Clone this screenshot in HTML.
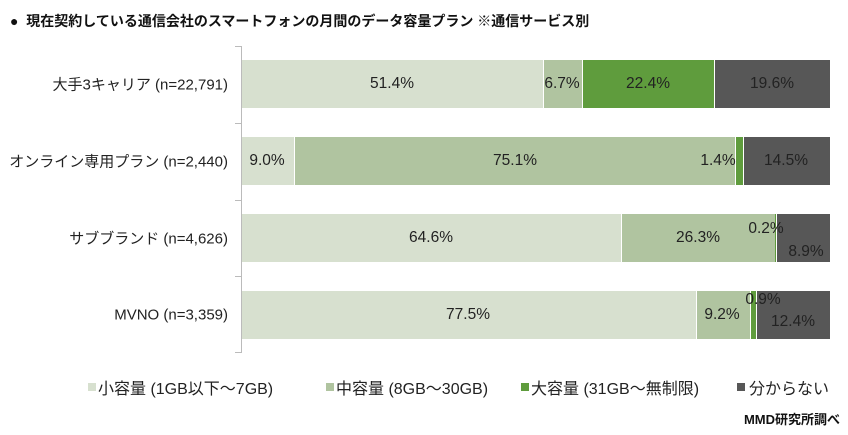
<!DOCTYPE html><html><head><meta charset="utf-8"><style>
body{margin:0;width:848px;height:435px;background:#fff;position:relative;font-family:"Liberation Sans","Noto Sans CJK JP",sans-serif;overflow:hidden}
div{position:absolute}
.s{height:48px}
.l{font-size:15.5px;color:#222;transform:translate(-50%,-50%);white-space:nowrap}
.c{font-size:15px;color:#222;right:620px;white-space:nowrap;transform:translateY(-50%)}
.a{background:#d7e0cf}.b{background:#b0c4a0}.g{background:#5f9c3d}.k{background:#575757}
.lg{font-size:16px;color:#222;top:375px;white-space:nowrap}
.sq{width:8px;height:8px;top:383px}
</style></head><body>
<div style="left:10px;top:11px;font-size:14px;font-weight:bold;color:#111">●&nbsp; 現在契約している通信会社のスマートフォンの月間のデータ容量プラン ※通信サービス別</div>
<div style="left:241px;top:46px;width:1px;height:307px;background:#bbb"></div>
<div style="left:235px;top:46px;width:6px;height:1px;background:#bbb"></div>
<div style="left:235px;top:123px;width:6px;height:1px;background:#bbb"></div>
<div style="left:235px;top:200px;width:6px;height:1px;background:#bbb"></div>
<div style="left:235px;top:276px;width:6px;height:1px;background:#bbb"></div>
<div style="left:235px;top:352px;width:6px;height:1px;background:#bbb"></div>

<div class="c" style="top:84px">大手3キャリア (n=22,791)</div>
<div class="c" style="top:161px">オンライン専用プラン (n=2,440)</div>
<div class="c" style="top:238px">サブブランド (n=4,626)</div>
<div class="c" style="top:315px">MVNO (n=3,359)</div>

<div class="s a" style="left:242px;top:60px;width:301px"></div>
<div class="s b" style="left:544px;top:60px;width:38px"></div>
<div class="s g" style="left:583px;top:60px;width:131px"></div>
<div class="s k" style="left:715px;top:60px;width:115px"></div>
<div class="l" style="left:392px;top:84px">51.4%</div>
<div class="l" style="left:562px;top:84px">6.7%</div>
<div class="l" style="left:648px;top:84px">22.4%</div>
<div class="l" style="left:772px;top:84px">19.6%</div>

<div class="s a" style="left:242px;top:137px;width:52px"></div>
<div class="s b" style="left:295px;top:137px;width:440px"></div>
<div class="s g" style="left:736px;top:137px;width:7px"></div>
<div class="s k" style="left:744px;top:137px;width:86px"></div>
<div class="l" style="left:267px;top:161px">9.0%</div>
<div class="l" style="left:515px;top:161px">75.1%</div>
<div class="l" style="left:718px;top:161px">1.4%</div>
<div class="l" style="left:786px;top:161px">14.5%</div>

<div class="s a" style="left:242px;top:214px;width:379px"></div>
<div class="s b" style="left:622px;top:214px;width:153px"></div>
<div class="s g" style="left:775px;top:214px;width:1px"></div>
<div class="s k" style="left:777px;top:214px;width:53px"></div>
<div class="l" style="left:431px;top:238px">64.6%</div>
<div class="l" style="left:698px;top:238px">26.3%</div>
<div class="l" style="left:766px;top:229px">0.2%</div>
<div class="l" style="left:806px;top:252px">8.9%</div>

<div class="s a" style="left:242px;top:291px;width:454px"></div>
<div class="s b" style="left:697px;top:291px;width:53px"></div>
<div class="s g" style="left:751px;top:291px;width:5px"></div>
<div class="s k" style="left:757px;top:291px;width:73px"></div>
<div class="l" style="left:468px;top:315px">77.5%</div>
<div class="l" style="left:722px;top:315px">9.2%</div>
<div class="l" style="left:763px;top:300px">0.9%</div>
<div class="l" style="left:793px;top:322px">12.4%</div>

<div class="sq a" style="left:88px"></div><div class="lg" style="left:98px">小容量 (1GB以下～7GB)</div>
<div class="sq b" style="left:326px"></div><div class="lg" style="left:336px">中容量 (8GB～30GB)</div>
<div class="sq g" style="left:521px"></div><div class="lg" style="left:531px">大容量 (31GB～無制限)</div>
<div class="sq k" style="left:737px"></div><div class="lg" style="left:749px">分からない</div>
<div style="right:8px;top:409px;font-size:13px;font-weight:bold;color:#111">MMD研究所調べ</div>
</body></html>
